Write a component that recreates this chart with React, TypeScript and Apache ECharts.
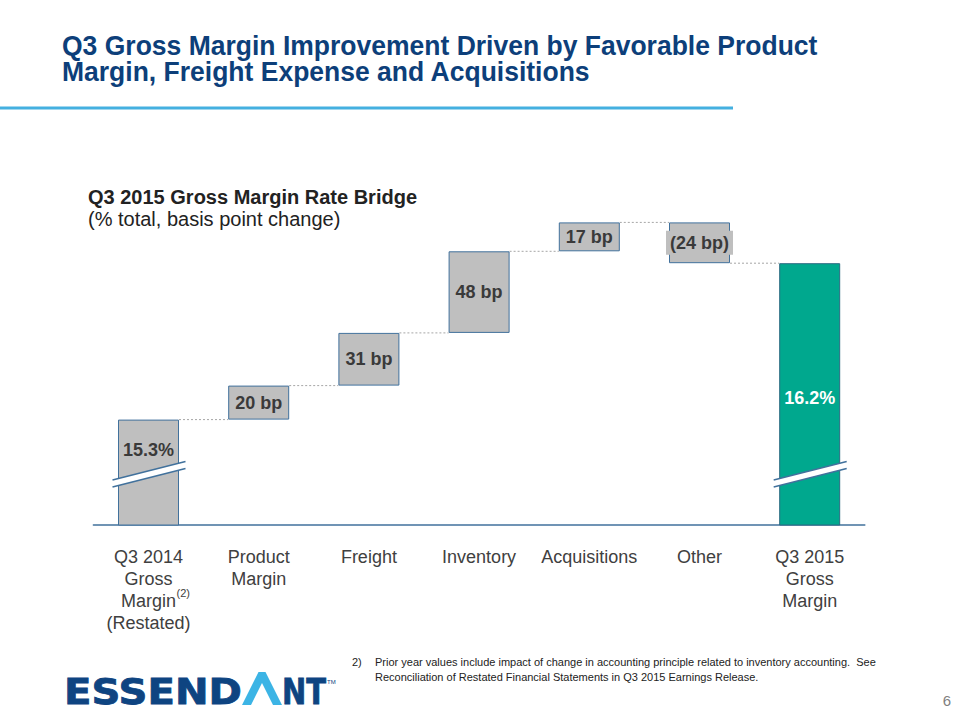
import React, { useEffect, useRef } from "react";
import * as echarts from "echarts";

// ---- data ----
const categories = [
  "Q3 2014\nGross\nMargin\n(Restated)",
  "Product\nMargin",
  "Freight",
  "Inventory",
  "Acquisitions",
  "Other",
  "Q3 2015\nGross\nMargin",
];
const startValue = 15.3; // % gross margin Q3 2014 (restated)
const changesBp = [20, 31, 48, 17, -24]; // basis point changes
const endValue = 16.22; // % gross margin Q3 2015
const startLabel = "15.3%";
const endLabel = "16.2%";

const titleLines = [
  "Q3 Gross Margin Improvement Driven by Favorable Product",
  "Margin, Freight Expense and Acquisitions",
];
const subtitleLines = ["Q3 2015 Gross Margin Rate Bridge", "(% total, basis point change)"];
const footnoteLines = [
  "Prior year values include impact of change in accounting principle related to inventory accounting.  See",
  "Reconciliation of Restated Financial Statements in Q3 2015 Earnings Release.",
];

// ---- styles ----
const NAVY = "#0d3f7a";
const GRAY = "#bfbfbf";
const OUTLINE = "#41719c";
const GREEN = "#00a88e";
const LABEL = "#3a3a3a";
const FONT = "'Liberation Sans', Arial, sans-serif";
const AXIS_MIN = 14.68;
const AXIS_MAX = 16.48;
const BAR_W = 61;

function measure(text: string, font: string): number {
  const ctx = document.createElement("canvas").getContext("2d");
  if (!ctx) return 0;
  ctx.font = font;
  return ctx.measureText(text).width;
}

export default function App() {
  const ref = useRef<HTMLDivElement>(null);

  useEffect(() => {
    if (!ref.current) return;
    const chart = echarts.init(ref.current, null, { renderer: "svg" });

    // build waterfall tables
    const baseData: any[] = [0];
    const deltaData: any[] = ["-"];
    const levels: number[] = [startValue];
    let running = startValue;
    changesBp.forEach((c) => {
      const next = running + c / 100;
      baseData.push(Math.min(running, next));
      const v = Math.abs(c) / 100;
      deltaData.push(
        c < 0
          ? { value: v, label: { backgroundColor: GRAY, padding: [3, 4] } }
          : v
      );
      running = next;
      levels.push(running);
    });
    baseData.push(0);
    deltaData.push("-");
    levels[levels.length - 1] = endValue;
    const connectorData = levels.map((v, i) => [i, v]);

    const totalData: any[] = categories.map(() => "-");
    totalData[0] = {
      value: startValue,
      itemStyle: { color: GRAY, borderColor: OUTLINE },
      label: { show: true, position: ["50%", 30], color: LABEL, formatter: startLabel },
    };
    totalData[categories.length - 1] = {
      value: endValue,
      itemStyle: { color: GREEN, borderColor: "#2a6a82" },
      label: { show: true, position: ["50%", 135], color: "#ffffff", formatter: endLabel },
    };

    chart.setOption({
      animation: false,
      textStyle: { fontFamily: FONT },
      grid: { left: 93.4, right: 95.2, top: 219, bottom: 195, containLabel: false },
      xAxis: {
        type: "category",
        data: categories,
        axisTick: { show: false },
        axisLine: { lineStyle: { color: OUTLINE, width: 1.5 } },
        axisLabel: {
          interval: 0,
          fontSize: 18,
          color: "#404040",
          lineHeight: 22,
          margin: 21,
          fontFamily: FONT,
        },
      },
      yAxis: {
        type: "value",
        min: AXIS_MIN,
        max: AXIS_MAX,
        show: false,
        splitLine: { show: false },
      },
      series: [
        {
          type: "custom",
          name: "connectors",
          coordinateSystem: "cartesian2d",
          encode: { x: 0, y: 1 },
          silent: true,
          z: 1,
          clip: false,
          data: connectorData,
          renderItem: (params: any, api: any) => {
            const i = api.value(0);
            const v = api.value(1);
            const p1 = api.coord([i, v]);
            const p2 = api.coord([i + 1, v]);
            return {
              type: "line",
              shape: { x1: p1[0] + BAR_W / 2, y1: p1[1], x2: p2[0] - BAR_W / 2, y2: p2[1] },
              style: { stroke: "#a6a6a6", lineWidth: 1, lineDash: [2, 2] },
            };
          },
        },
        {
          type: "bar",
          name: "base",
          stack: "w",
          barWidth: BAR_W,
          silent: true,
          itemStyle: { color: "rgba(0,0,0,0)" },
          data: baseData,
        },
        {
          type: "bar",
          name: "delta",
          stack: "w",
          barWidth: BAR_W,
          silent: true,
          itemStyle: { color: GRAY, borderColor: OUTLINE, borderWidth: 1 },
          label: {
            show: true,
            position: "inside",
            fontSize: 18,
            fontWeight: "bold",
            color: LABEL,
            fontFamily: FONT,
            formatter: (p: any) => {
              const c = changesBp[p.dataIndex - 1];
              return c < 0 ? `(${-c} bp)` : `${c} bp`;
            },
          },
          data: deltaData,
        },
        {
          type: "bar",
          name: "total",
          stack: "w",
          barWidth: BAR_W,
          silent: true,
          itemStyle: { borderWidth: 1 },
          label: {
            fontSize: 18,
            fontWeight: "bold",
            fontFamily: FONT,
            align: "center",
            verticalAlign: "middle",
          },
          data: totalData,
        },
        {
          type: "custom",
          name: "breaks",
          coordinateSystem: "cartesian2d",
          encode: { x: 0, y: 1 },
          silent: true,
          z: 5,
          clip: false,
          data: [
            [0, AXIS_MIN],
            [categories.length - 1, AXIS_MIN],
          ],
          renderItem: (params: any, api: any) => {
            const p = api.coord([api.value(0), api.value(1)]);
            const cx = p[0];
            const cy = p[1] - 51;
            const a = [cx - 36, cy + 6];
            const b = [cx + 37, cy - 12.5];
            const c = [cx + 37, cy - 5.5];
            const d = [cx - 36, cy + 13];
            const ls = { stroke: OUTLINE, lineWidth: 1.5 };
            return {
              type: "group",
              children: [
                { type: "polygon", shape: { points: [a, b, c, d] }, style: { fill: "#ffffff" } },
                { type: "line", shape: { x1: a[0], y1: a[1], x2: b[0], y2: b[1] }, style: ls },
                { type: "line", shape: { x1: d[0], y1: d[1], x2: c[0], y2: c[1] }, style: ls },
              ],
            };
          },
        },
      ],
    });

    // decorations
    const titleFont = `bold 28px ${FONT}`;
    const tw = measure(titleLines[0], titleFont) || 756;
    const titleScale = 756 / tw;
    const logoFont = `bold 36px 'DejaVu Sans'`;
    const lw1 = measure("ESSEND", logoFont) || 178;
    const lw2 = measure("NT", logoFont) || 44;
    const supX = (chart.convertToPixel({ xAxisIndex: 0 }, 0) as number) + 28;
    const logoText = {
      fontFamily: "'DejaVu Sans', sans-serif",
      fontWeight: "bold",
      fontSize: 36,
      fill: "#0e4481",
      stroke: "#0e4481",
      lineWidth: 0.8,
      verticalAlign: "middle",
    };

    chart.setOption({
      graphic: [
        {
          type: "text",
          x: 62,
          y: 32,
          scaleX: titleScale,
          style: {
            text: titleLines.join("\n"),
            fontFamily: FONT,
            fontWeight: "bold",
            fontSize: 28,
            lineHeight: 26.5,
            fill: NAVY,
            verticalAlign: "top",
          },
        },
        {
          type: "line",
          shape: { x1: 0, y1: 108, x2: 733, y2: 108 },
          style: { stroke: "#44b0e0", lineWidth: 3 },
        },
        {
          type: "text",
          x: 88,
          y: 197,
          style: { text: subtitleLines[0], fontFamily: FONT, fontWeight: "bold", fontSize: 20, fill: "#222222", verticalAlign: "middle" },
        },
        {
          type: "text",
          x: 88,
          y: 219,
          style: { text: subtitleLines[1], fontFamily: FONT, fontSize: 20, fill: "#222222", verticalAlign: "middle" },
        },
        {
          type: "text",
          x: supX,
          y: 593,
          style: { text: "(2)", fontFamily: FONT, fontSize: 11, fill: "#404040", verticalAlign: "middle" },
        },
        {
          type: "text",
          x: 352,
          y: 662,
          style: { text: "2)", fontFamily: FONT, fontSize: 11, fill: "#222222", verticalAlign: "middle" },
        },
        {
          type: "text",
          x: 375,
          y: 662,
          style: { text: footnoteLines[0], fontFamily: FONT, fontSize: 11, fill: "#222222", verticalAlign: "middle" },
        },
        {
          type: "text",
          x: 375,
          y: 677,
          style: { text: footnoteLines[1], fontFamily: FONT, fontSize: 11, fill: "#222222", verticalAlign: "middle" },
        },
        {
          type: "text",
          x: 947,
          y: 700,
          style: { text: "6", fontFamily: FONT, fontSize: 15, fill: "#7f7f7f", align: "center", verticalAlign: "middle" },
        },
        {
          type: "text",
          x: 64,
          y: 692,
          scaleX: 178 / lw1,
          style: { text: "ESSEND", ...logoText },
        },
        {
          type: "polygon",
          shape: {
            points: [
              [242, 705],
              [258.5, 672],
              [265.5, 672],
              [282, 705],
              [273, 705],
              [262, 683],
              [251, 705],
            ],
          },
          style: { fill: "#3cb4e5" },
        },
        {
          type: "text",
          x: 282,
          y: 692,
          scaleX: 44 / lw2,
          style: { text: "NT", ...logoText },
        },
        {
          type: "text",
          x: 327,
          y: 682,
          style: { text: "TM", fontFamily: FONT, fontSize: 6, fill: "#0e4481", verticalAlign: "middle" },
        },
      ],
    });

    return () => chart.dispose();
  }, []);

  return (
    <div
      ref={ref}
      style={{ position: "absolute", left: 0, top: 0, width: 960, height: 720, background: "#ffffff" }}
    />
  );
}
